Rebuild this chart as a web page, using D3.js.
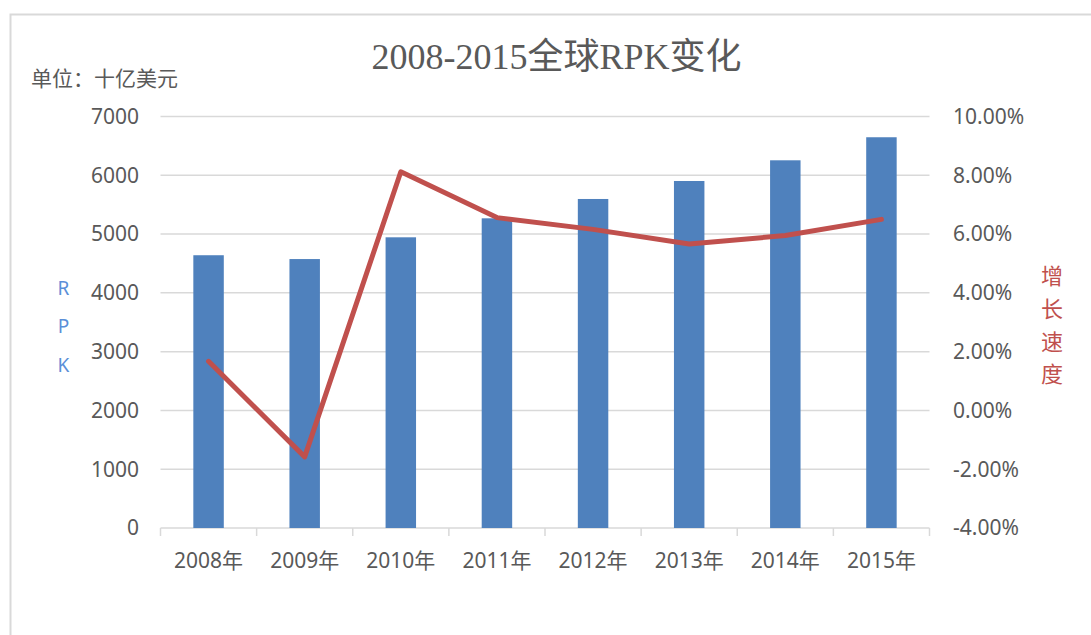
<!DOCTYPE html>
<html><head><meta charset="utf-8">
<script src="https://cdn.jsdelivr.net/npm/d3@7"></script>
<style>
html,body{margin:0;padding:0;background:#fff;}
svg{display:block;}
</style></head>
<body>
<svg id="chart" width="1091" height="635"></svg>
<script>
const categories = ["2008年","2009年","2010年","2011年","2012年","2013年","2014年","2015年"];
const rpkValues = [4640, 4575, 4945, 5268, 5597, 5903, 6255, 6647];
const growthValues = [0.0167, -0.0158, 0.0812, 0.0656, 0.0616, 0.0566, 0.0595, 0.0650];
const leftTicks = [0,1000,2000,3000,4000,5000,6000,7000];
const rightTicks = [-0.04,-0.02,0,0.02,0.04,0.06,0.08,0.10];
const titleText = "2008-2015全球RPK变化";
const unitText = "单位：十亿美元";
const leftTitle = ["R","P","K"];
const rightTitle = ["增","长","速","度"];

const svg = d3.select("#chart");
const L = 160.5, R = 929.5, T = 116.5, B = 528;
const sansFont = "'Noto Sans','Noto Sans CJK SC',sans-serif";
const textColor = "#595959";

// frame
svg.append("rect").attr("x",10.5).attr("y",14.5).attr("width",1200).attr("height",700)
  .attr("fill","#fff").attr("stroke","#d9d9d9").attr("stroke-width",2);

const x = d3.scaleBand().domain(categories).range([L,R]).paddingInner(0.683).paddingOuter(0.3415);
const yL = d3.scaleLinear().domain([0,7000]).range([B,T]);
const yR = d3.scaleLinear().domain([-0.04,0.10]).range([B,T]);

// gridlines
svg.append("g").selectAll("line").data(leftTicks).join("line")
  .attr("x1",L).attr("x2",R).attr("y1",d=>yL(d)).attr("y2",d=>yL(d))
  .attr("stroke","#d9d9d9").attr("stroke-width",1.5);

// x axis ticks at band edges
const step = x.step();
const edges = d3.range(categories.length+1).map(i => L + i*step);
svg.append("g").selectAll("line").data(edges).join("line")
  .attr("x1",d=>d).attr("x2",d=>d).attr("y1",B).attr("y2",B+8)
  .attr("stroke","#d9d9d9").attr("stroke-width",1.5);

// bars
svg.append("g").selectAll("rect").data(rpkValues).join("rect")
  .attr("x",(d,i)=>x(categories[i])).attr("width",x.bandwidth())
  .attr("y",d=>yL(d)).attr("height",d=>B-yL(d))
  .attr("fill","#4f81bd");

// line
const line = d3.line().x((d,i)=>x(categories[i])+x.bandwidth()/2).y(d=>yR(d));
svg.append("path").datum(growthValues).attr("d",line)
  .attr("fill","none").attr("stroke","#c0504d").attr("stroke-width",5)
  .attr("stroke-linejoin","round").attr("stroke-linecap","round");

// left tick labels
svg.append("g").selectAll("text").data(leftTicks).join("text")
  .attr("x",139).attr("y",d=>yL(d)).attr("dy","0.35em")
  .attr("text-anchor","end").attr("font-family",sansFont).attr("font-size",21)
  .attr("fill",textColor).text(d=>d3.format("d")(d));

// right tick labels
const pct = d3.format(".2%");
svg.append("g").selectAll("text").data(rightTicks).join("text")
  .attr("x",953).attr("y",d=>yR(d)).attr("dy","0.35em")
  .attr("text-anchor","start").attr("font-family",sansFont).attr("font-size",21)
  .attr("fill",textColor).text(d=>pct(d).replace("\u2212","-"));

// x labels
svg.append("g").selectAll("text").data(categories).join("text")
  .attr("x",d=>x(d)+x.bandwidth()/2).attr("y",568)
  .attr("text-anchor","middle").attr("font-family",sansFont).attr("font-size",21)
  .attr("fill",textColor).text(d=>d);

// title
svg.append("text").attr("x",556.5).attr("y",69).attr("text-anchor","middle")
  .attr("font-family","'Liberation Serif','Noto Sans CJK SC',serif").attr("font-size",36)
  .attr("fill",textColor).text(titleText);

// unit
svg.append("text").attr("x",31).attr("y",86).attr("font-family","'Noto Sans CJK SC',sans-serif")
  .attr("font-size",21).attr("fill",textColor).text(unitText);

// left axis title
svg.append("g").selectAll("text").data(leftTitle).join("text")
  .attr("x",63.5).attr("y",(d,i)=>288.5+i*38.3).attr("dy","0.35em").attr("text-anchor","middle")
  .attr("font-family",sansFont).attr("font-size",19).attr("fill","#5b8fd8").text(d=>d);

// right axis title
svg.append("g").selectAll("text").data(rightTitle).join("text")
  .attr("x",1052).attr("y",(d,i)=>276+i*32.7).attr("dy","0.38em").attr("text-anchor","middle")
  .attr("font-family","'Noto Sans CJK SC',sans-serif").attr("font-size",22).attr("fill","#c0504d").text(d=>d);
</script>
</body></html>
